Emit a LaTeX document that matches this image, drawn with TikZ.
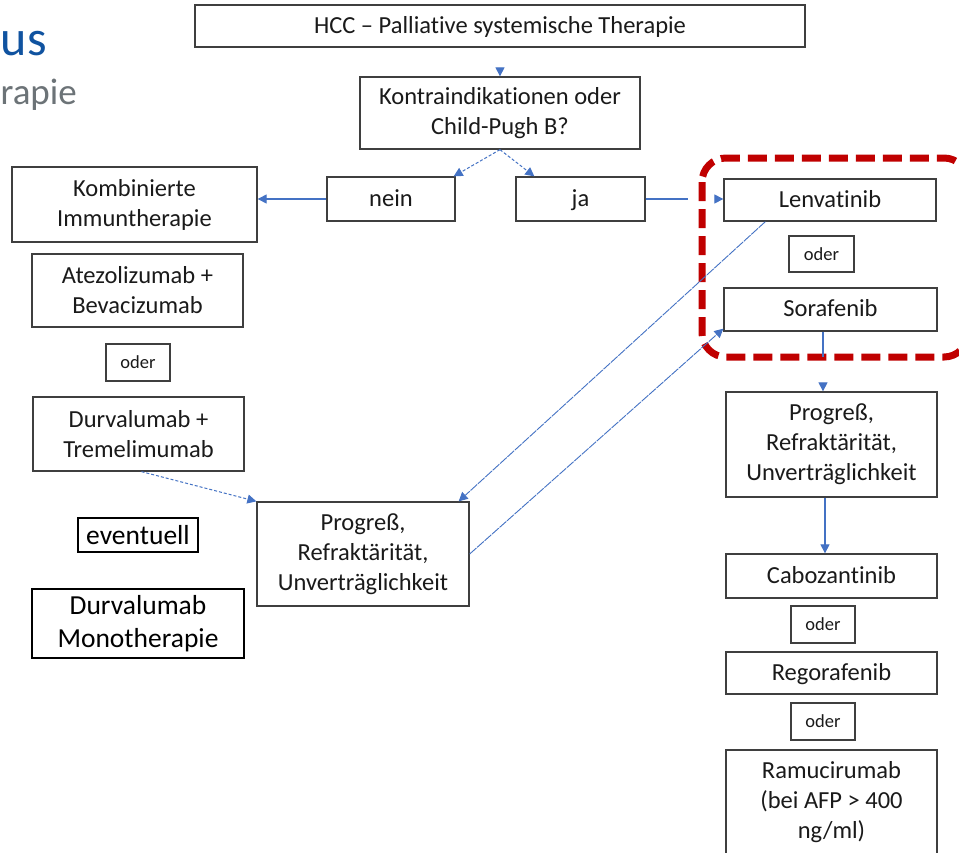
\documentclass[tikz,border=0pt]{standalone}
\usepackage{fontspec}
\setmainfont{Carlito}[Ligatures={NoCommon}]
\usetikzlibrary{arrows.meta}
\definecolor{linkblue}{HTML}{4472C4}
\definecolor{frame}{HTML}{3F3F3F}
\definecolor{ink}{HTML}{1A1A1A}
\definecolor{alertred}{HTML}{C00000}
\definecolor{titleblue}{HTML}{1053A0}
\definecolor{subgray}{HTML}{6C7377}
\tikzset{
  box/.style={draw=frame, line width=1.3pt, fill=white, text=ink, align=center,
    inner sep=0pt, font=\fontsize{24.5}{30}\selectfont},
  oneline/.style={text height=17pt, text depth=3pt},
  smallbox/.style={box, text height=13pt, text depth=1pt, font=\fontsize{18.5}{22}\selectfont},
  boldbox/.style={draw=black, line width=2pt, fill=white, text=black, align=center,
    inner sep=0pt, font=\fontsize{27.5}{33}\selectfont},
  conn/.style={draw=linkblue, line width=1.1pt, -{Triangle[length=9pt,width=9pt]}},
  dotconn/.style={conn, line width=1pt, dash pattern=on 3pt off 2pt},
  thinconn/.style={conn, line width=0.9pt, dash pattern=on 9pt off 1pt},
}
\begin{document}
\begin{tikzpicture}[x=1pt,y=-1pt]
\useasboundingbox (0,0) rectangle (959,852);
\clip (0,0) rectangle (959,852);
\fill[white] (0,0) rectangle (959,852);

% slide heading, trailing part only
\node[anchor=base east, inner sep=0pt, text=titleblue, font=\fontsize{50}{60}\selectfont] (headA) at (47,55) {us};
\node[anchor=base east, inner sep=0pt, text=subgray, font=\fontsize{37}{44}\selectfont] (headB) at (77,104) {rapie};

% highlighted first-line group
\draw[alertred, line width=7pt, dash pattern=on 19pt off 8pt, rounded corners=24pt]
  (702,158) rectangle (968,357);

% top of the chart
\node[box, oneline, minimum width=610, minimum height=42] (hcc) at (500,26) {HCC – Palliative systemische Therapie};
\node[box, minimum width=280, minimum height=72] (kontra) at (500,113) {Kontraindikationen oder\\Child-Pugh B?};
\node[box, oneline, minimum width=128, minimum height=44] (nein) at (391,199) {nein};
\node[box, oneline, minimum width=129, minimum height=44] (ja) at (580.5,199) {ja};

% left branch: immunotherapy
\node[box, minimum width=245, minimum height=75] (komb) at (134.5,204.5) {Kombinierte\\Immuntherapie};
\node[box, minimum width=211, minimum height=73] (atezo) at (137.5,290.5) {Atezolizumab +\\Bevacizumab};
\node[smallbox, minimum width=64, minimum height=37] (oderL) at (138,362.5) {oder};
\node[box, minimum width=211, minimum height=74] (durva) at (138.5,434) {Durvalumab +\\Tremelimumab};
\node[boldbox, text height=20pt, text depth=2pt, minimum width=120, minimum height=34] (evt) at (138,535) {eventuell};
\node[boldbox, minimum width=212, minimum height=69] (mono) at (138,623.5) {Durvalumab\\Monotherapie};
\node[box, minimum width=212, minimum height=104] (progL) at (363,554) {Progreß,\\Refraktärität,\\Unverträglichkeit};

% right branch: tyrosine kinase inhibitors
\node[box, oneline, minimum width=212, minimum height=42] (lenva) at (830,200) {Lenvatinib};
\node[smallbox, minimum width=65, minimum height=36] (oderR1) at (821.5,254) {oder};
\node[box, oneline, minimum width=213, minimum height=43] (sora) at (830.5,309.5) {Sorafenib};
\node[box, minimum width=211, minimum height=105] (progR) at (831.5,444.5) {Progreß,\\Refraktärität,\\Unverträglichkeit};
\node[box, oneline, minimum width=211, minimum height=44] (cabo) at (831.5,576) {Cabozantinib};
\node[smallbox, minimum width=64, minimum height=37] (oderR2) at (823,624.5) {oder};
\node[box, oneline, minimum width=211, minimum height=42] (rego) at (831.5,673) {Regorafenib};
\node[smallbox, minimum width=64, minimum height=37] (oderR3) at (823,721.5) {oder};
\node[box, minimum width=211, minimum height=104] (ramu) at (831.5,802) {Ramucirumab\\(bei AFP > 400\\ng/ml)};

% connectors
\draw[conn, dash pattern=on 0pt off 200pt] (hcc.south) -- (kontra.north);
\draw[dotconn] (kontra.south) -- ([xshift=-2pt]nein.north east);
\draw[dotconn] (kontra.south) -- ([xshift=19pt]ja.north west);
\draw[conn] (nein.west) -- (nein.west -| komb.east);
\draw[conn, dash pattern=on 42pt off 100pt] (ja.east) -- (ja.east -| lenva.west);
\draw[thinconn] ([xshift=42pt]lenva.south west) -- ([xshift=-11pt]progL.north east);
\draw[thinconn] (progL.east) -- ([yshift=3pt]sora.south west);
\draw[dotconn] ([xshift=3pt]durva.south) -- (progL.north west);
\draw[conn, dash pattern=on 25pt off 100pt] ([xshift=-7.5pt]sora.south) -- ([xshift=-7.5pt]sora.south |- progR.north);
\draw[conn] ([xshift=-6.5pt]progR.south) -- ([xshift=-6.5pt]progR.south |- cabo.north);
\end{tikzpicture}
\end{document}
